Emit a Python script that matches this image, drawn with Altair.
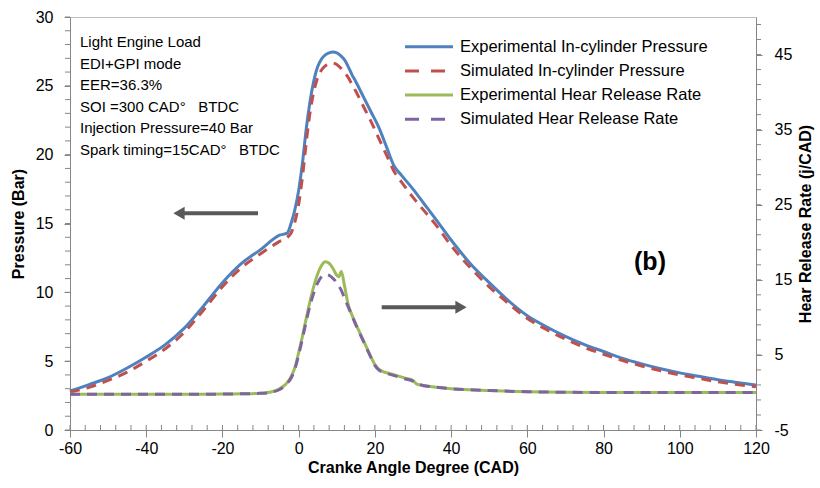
import altair as alt
import pandas as pd

# ---------------- data ----------------
ca_p = [-60, -55, -50, -45, -40, -35, -30, -25, -20, -15, -10, -5, -3, -2, -1, 0,
        1, 2, 3, 4, 5, 6, 7, 8, 9, 10, 11, 12, 13, 14, 15,
        17, 19, 21, 23, 25, 27, 30, 33, 36,
        40, 45, 50, 55, 60, 65, 70, 75, 80, 85, 90, 95, 100, 105, 110, 115, 120]
p_exp = [2.83, 3.3, 3.8, 4.5, 5.3, 6.2, 7.4, 9.0, 10.7, 12.1, 13.1, 14.15, 14.3, 15.0, 16.0, 17.4,
         19.4, 21.9, 23.9, 25.4, 26.4, 26.95, 27.25, 27.4, 27.45, 27.4, 27.2, 26.9, 26.4, 25.8, 25.3,
         24.2, 23.1, 22.0, 20.6, 19.2, 18.5, 17.5, 16.4, 15.3,
         13.8, 12.1, 10.7, 9.4, 8.3, 7.5, 6.8, 6.2, 5.7, 5.2, 4.8, 4.45, 4.15, 3.9, 3.65, 3.45, 3.26]
p_sim = [2.75, 3.1, 3.6, 4.2, 5.0, 5.9, 7.1, 8.7, 10.4, 11.8, 12.8, 13.7, 14.0, 14.3, 15.1, 16.4,
         18.4, 20.9, 23.1, 24.6, 25.6, 26.15, 26.45, 26.6, 26.65, 26.55, 26.3, 26.0, 25.6, 25.1, 24.6,
         23.5, 22.4, 21.2, 20.0, 18.8, 18.0, 16.9, 15.9, 14.9,
         13.4, 11.8, 10.4, 9.2, 8.1, 7.3, 6.6, 6.0, 5.5, 5.05, 4.65, 4.3, 4.0, 3.75, 3.5, 3.3, 3.15]

ca_h = [-60, -40, -20, -15, -10, -7, -5, -3, -2, -1,
        0, 1, 2, 3, 4, 5, 6, 7, 8, 9, 10, 10.5, 11.2,
        12, 13, 14, 15, 16, 17, 18, 19, 20, 21, 22,
        24, 26, 28, 30, 31, 33, 36, 40, 45, 50,
        60, 70, 80, 90, 100, 110, 120]
h_exp = [-0.25, -0.25, -0.22, -0.18, -0.1, 0.1, 0.5, 1.3, 2.1, 3.3,
         5.3, 7.5, 9.9, 12.2, 14.2, 15.8, 16.9, 17.4, 17.2, 16.5, 15.6, 15.4, 16.1,
         14.3, 11.7, 10.3, 9.1, 8.0, 6.9, 5.8, 4.7, 3.7, 3.1, 2.8,
         2.5, 2.2, 1.9, 1.6, 1.1, 0.9, 0.7, 0.5, 0.35, 0.25,
         0.1, 0.03, 0.0, 0.0, 0.0, 0.0, 0.0]
h_sim = [-0.25, -0.25, -0.22, -0.18, -0.12, 0.05, 0.4, 1.2, 1.9, 3.1,
         5.0, 7.2, 9.5, 11.6, 13.3, 14.6, 15.4, 15.7, 15.6, 15.2, 14.6, 14.2, 13.6,
         12.6, 11.4, 10.2, 9.0, 7.9, 6.8, 5.7, 4.6, 3.6, 3.0, 2.7,
         2.4, 2.1, 1.8, 1.5, 1.2, 0.9, 0.7, 0.5, 0.35, 0.25,
         0.1, 0.03, 0.0, 0.0, 0.0, 0.0, 0.0]

series_names = ["Experimental In-cylinder Pressure", "Simulated In-cylinder Pressure",
                "Experimental Hear Release Rate", "Simulated Hear Release Rate"]
series_colors = ["#4F81BD", "#C0504D", "#9BBB59", "#8064A2"]
series_dashed = [False, True, False, True]

x_major = list(range(-60, 121, 20))
x_minor = list(range(-60, 121, 4))
p_major = list(range(0, 31, 5))
p_minor = list(range(0, 31))
h_major = list(range(-5, 50, 10))
h_minor = list(range(-5, 50, 2))

NB = "\u00a0"
note_lines = ["Light Engine Load", "EDI+GPI mode", "EER=36.3%",
              f"SOI =300 CAD°{NB}{NB}{NB}BTDC", "Injection Pressure=40 Bar",
              f"Spark timing=15CAD°{NB}{NB}{NB}BTDC"]
panel_label = "(b)"
x_title = "Cranke Angle Degree (CAD)"
p_title = "Pressure (Bar)"
h_title = "Hear Release Rate (j/CAD)"

# ---------------- styling ----------------
FONT = "Liberation Sans"
W, H = 686, 413
AX = "#868686"
DASH = [10, 7]
ARROW = "#595959"

dfp = pd.DataFrame({"ca": ca_p, "exp": p_exp, "sim": p_sim})
dfh = pd.DataFrame({"ca": ca_h, "exp": h_exp, "sim": h_sim})
one = pd.DataFrame({"k": [0]})

common_axis = dict(grid=False, domainColor=AX, tickColor=AX, labelColor="black",
                   labelFont=FONT, labelFontSize=16, titleFont=FONT, titleFontSize=16,
                   titleFontWeight="bold", titleColor="black", labelOverlap=False,
                   labelExpr="'' + datum.value")

x_axis = alt.Axis(values=x_major, tickSize=7, labelPadding=3, labelFlush=False,
                  titleX=W / 2, titleY=37, titleBaseline="middle", titleAlign="center",
                  **common_axis)
p_axis = alt.Axis(orient="left", values=p_major, tickSize=6, labelPadding=11,
                  titleAngle=270, titleX=-52, titleY=H / 2, titleAlign="center", titleBaseline="middle",
                  **common_axis)
h_axis = alt.Axis(orient="right", values=h_major, tickSize=6, labelPadding=12,
                  titleAngle=270, titleX=49, titleY=H / 2, titleAlign="center", titleBaseline="middle",
                  **common_axis)

xs = alt.Scale(domain=[-60, 120], nice=False, zero=False)
ps = alt.Scale(domain=[0, 30], nice=False, zero=False)
hs = alt.Scale(domain=[-5, 50], nice=False, zero=False)


def X(field):
    return alt.X(f"{field}:Q", scale=xs, axis=x_axis, title=x_title)


def line(df, field, i, yscale, yaxis, ytitle):
    kw = dict(color=series_colors[i], strokeWidth=3, interpolate="monotone", strokeCap="butt")
    if series_dashed[i]:
        kw["strokeDash"] = DASH
    return alt.Chart(df).mark_line(**kw).encode(
        x=X("ca"),
        y=alt.Y(f"{field}:Q", scale=yscale, axis=yaxis, title=ytitle),
    )


# minor ticks
x_minor_ticks = alt.Chart(pd.DataFrame({"v": x_minor})).mark_rule(color=AX, strokeWidth=1).encode(
    x=X("v"), y=alt.value(H - 5), y2=alt.value(H))
p_minor_ticks = alt.Chart(pd.DataFrame({"v": p_minor})).mark_rule(color=AX, strokeWidth=1).encode(
    y=alt.Y("v:Q", scale=ps, axis=p_axis, title=p_title), x=alt.value(-5), x2=alt.value(0))
h_minor_ticks = alt.Chart(pd.DataFrame({"v": h_minor})).mark_rule(color=AX, strokeWidth=1).encode(
    y=alt.Y("v:Q", scale=hs, axis=h_axis, title=h_title), x=alt.value(W), x2=alt.value(W + 5))

# legend (drawn manually to match Excel style)
legend_layers = []
for i, name in enumerate(series_names):
    y = 29.7 + 24.2 * i
    kw = dict(color=series_colors[i], strokeWidth=3, strokeCap="butt")
    if series_dashed[i]:
        kw["strokeDash"] = [14, 12]
    legend_layers.append(alt.Chart(one).mark_rule(**kw).encode(
        x=alt.value(335), x2=alt.value(383), y=alt.value(y)))
    legend_layers.append(alt.Chart(one).mark_text(
        align="left", baseline="middle", font=FONT, fontSize=16.5, color="black").encode(
        x=alt.value(390), y=alt.value(y), text=alt.value(name)))

notes = alt.Chart(one).mark_text(
    align="left", baseline="middle", font=FONT, fontSize=15, lineHeight=21.5, color="black").encode(
    x=alt.value(10), y=alt.value(25.3), text=alt.value(note_lines))

label_b = alt.Chart(one).mark_text(
    align="center", baseline="middle", font=FONT, fontSize=25, fontWeight="bold", color="black").encode(
    x=alt.value(580), y=alt.value(245), text=alt.value(panel_label))

arrow_l = alt.Chart(one).mark_rule(color=ARROW, strokeWidth=4).encode(
    x=alt.value(112), x2=alt.value(188), y=alt.value(196.3))
head_l = alt.Chart(one).mark_point(shape="triangle-left", filled=True, color=ARROW, size=170, opacity=1).encode(
    x=alt.value(109), y=alt.value(196.3))
arrow_r = alt.Chart(one).mark_rule(color=ARROW, strokeWidth=4).encode(
    x=alt.value(311.7), x2=alt.value(386), y=alt.value(290.3))
head_r = alt.Chart(one).mark_point(shape="triangle-right", filled=True, color=ARROW, size=170, opacity=1).encode(
    x=alt.value(391), y=alt.value(290.3))

pressure = alt.layer(
    x_minor_ticks, p_minor_ticks,
    line(dfp, "exp", 0, ps, p_axis, p_title),
    line(dfp, "sim", 1, ps, p_axis, p_title),
    notes, label_b, arrow_l, head_l, arrow_r, head_r, *legend_layers,
)
hrr = alt.layer(
    h_minor_ticks,
    line(dfh, "exp", 2, hs, h_axis, h_title),
    line(dfh, "sim", 3, hs, h_axis, h_title),
)

chart = alt.layer(pressure, hrr).resolve_scale(y="independent").properties(
    width=W, height=H,
    padding={"left": 70, "top": 17, "right": 64, "bottom": 58},
    autosize=alt.AutoSizeParams(type="none"),
    background="white",
).configure(font=FONT).configure_view(stroke="#BFBFBF", strokeWidth=1)

chart.save("out.html", embed_options={"renderer": "svg", "actions": False})
